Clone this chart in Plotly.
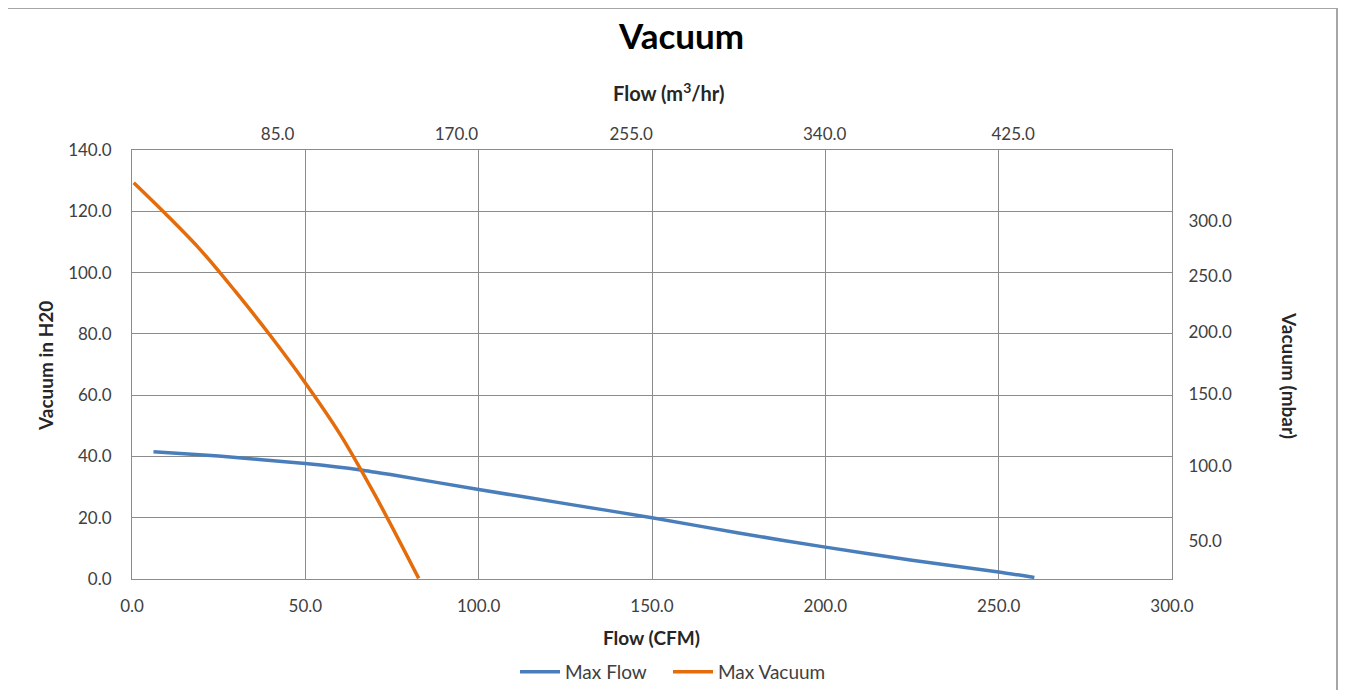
import plotly.graph_objects as go

# ---------------- data ----------------
flow_cfm_max_flow = [6.2, 25, 50, 66, 75, 100, 125, 150, 175, 200, 225, 250, 260.3]
vac_inh2o_max_flow = [41.5, 40.1, 37.7, 35.6, 34.0, 29.2, 24.6, 20.0, 15.0, 10.4, 6.1, 2.3, 0.5]

flow_cfm_max_vac = [0.5, 10, 20, 30, 40, 50, 60, 70, 82.7]
vac_inh2o_max_vac = [129.3, 118.8, 107.1, 93.6, 79.3, 64.0, 47.3, 27.6, 0.2]

bottom_ticks = [0, 50, 100, 150, 200, 250, 300]
left_ticks = [0, 20, 40, 60, 80, 100, 120, 140]

top_tick_labels = ["85.0", "170.0", "255.0", "340.0", "425.0"]
top_tick_pos_cfm = [42.0, 93.6, 144.0, 199.8, 254.2]

right_tick_labels = ["300.0", "250.0", "200.0", "150.0", "100.0", "50.0"]
right_tick_pos_inh2o = [116.8, 98.8, 80.6, 60.4, 37.0, 12.5]

# ---------------- layout geometry ----------------
O = 8                      # page body margin
W, H = 1330, 682
L, R, T, B = 124, 166, 142, 111
PW, PH = W - L - R, H - T - B


def px(sx):
    return (sx - O - L) / PW


def py(sy):
    return (H - B - (sy - O)) / PH


def cx(sx):
    return (sx - O) / W


def cy(sy):
    return 1 - (sy - O) / H


FONT = "Lato, 'Open Sans', sans-serif"
BLUE = "#4A7EBB"
ORANGE = "#E46C0A"
GRID = "#8C8C8C"
TXT = "#404040"
TTL = "#262626"

fig = go.Figure()
fig.add_trace(go.Scatter(x=flow_cfm_max_flow, y=vac_inh2o_max_flow, mode="lines",
                         name="Max Flow", legend="legend",
                         line=dict(color=BLUE, width=3.5, shape="spline", smoothing=0.6)))
fig.add_trace(go.Scatter(x=flow_cfm_max_vac, y=vac_inh2o_max_vac, mode="lines",
                         name="Max Vacuum", legend="legend2",
                         line=dict(color=ORANGE, width=3.5, shape="spline", smoothing=1.0)))
# invisible helper traces so the secondary axes are drawn
fig.add_trace(go.Scatter(x=flow_cfm_max_flow, y=vac_inh2o_max_flow, xaxis="x2", yaxis="y",
                         mode="lines", line=dict(width=0), opacity=0, showlegend=False, hoverinfo="skip"))
fig.add_trace(go.Scatter(x=flow_cfm_max_flow, y=vac_inh2o_max_flow, xaxis="x", yaxis="y2",
                         mode="lines", line=dict(width=0), opacity=0, showlegend=False, hoverinfo="skip"))

legend_common = dict(orientation="h", xref="container", yref="container",
                     xanchor="left", yanchor="middle", y=cy(672),
                     font=dict(family=FONT, size=19, color=TXT), itemwidth=40,
                     bgcolor="rgba(0,0,0,0)", tracegroupgap=0)

fig.update_layout(
    width=W, height=H,
    margin=dict(l=L, r=R, t=T, b=B, autoexpand=False),
    paper_bgcolor="white", plot_bgcolor="white",
    font=dict(family=FONT, size=17, color=TXT),
    showlegend=True,
    legend=dict(legend_common, x=cx(515)),
    legend2=dict(legend_common, x=cx(668)),
    xaxis=dict(range=[0, 300], tickvals=bottom_ticks, tickformat=".1f",
               showgrid=True, gridcolor=GRID, gridwidth=1,
               showline=True, linecolor=GRID, linewidth=1, mirror=True,
               zeroline=False, ticks="outside", ticklen=12, tickcolor="rgba(0,0,0,0)",
               tickfont=dict(family=FONT, size=17, color=TXT)),
    yaxis=dict(range=[0, 140], tickvals=left_ticks, tickformat=".1f",
               showgrid=True, gridcolor=GRID, gridwidth=1,
               showline=True, linecolor=GRID, linewidth=1, mirror=True,
               zeroline=False, ticks="outside", ticklen=16, tickcolor="rgba(0,0,0,0)",
               tickfont=dict(family=FONT, size=17, color=TXT)),
    xaxis2=dict(range=[0, 300], overlaying="x", side="top", anchor="y",
                tickvals=top_tick_pos_cfm, ticktext=top_tick_labels,
                showgrid=False, zeroline=False, showline=False,
                ticks="outside", ticklen=2, tickcolor="rgba(0,0,0,0)",
                tickfont=dict(family=FONT, size=17, color=TXT)),
    yaxis2=dict(range=[0, 140], overlaying="y", side="right", anchor="x",
                tickvals=right_tick_pos_inh2o, ticktext=right_tick_labels,
                showgrid=False, zeroline=False, showline=False,
                ticks="outside", ticklen=12, tickcolor="rgba(0,0,0,0)",
                tickfont=dict(family=FONT, size=17, color=TXT)),
    annotations=[
        dict(text="<b>Vacuum</b>", xref="paper", yref="paper", x=px(681), y=py(35),
             xanchor="center", yanchor="middle", showarrow=False,
             font=dict(family=FONT, size=35, color="#000000")),
        dict(text="<b>Flow (m<sup>3</sup>/hr)</b>", xref="paper", yref="paper", x=px(668), y=py(92),
             xanchor="center", yanchor="middle", showarrow=False,
             font=dict(family=FONT, size=20, color=TTL)),
        dict(text="<b>Flow (CFM)</b>", xref="paper", yref="paper", x=px(651), y=py(637),
             xanchor="center", yanchor="middle", showarrow=False,
             font=dict(family=FONT, size=19, color=TTL)),
        dict(text="<b>Vacuum in H20</b>", xref="paper", yref="paper", x=px(45), y=py(366),
             xanchor="center", yanchor="middle", showarrow=False, textangle=-90,
             font=dict(family=FONT, size=19, color=TTL)),
        dict(text="<b>Vacuum (mbar)</b>", xref="paper", yref="paper", x=px(1290), y=py(375),
             xanchor="center", yanchor="middle", showarrow=False, textangle=90,
             font=dict(family=FONT, size=19, color=TTL)),
    ],
    shapes=[
        dict(type="rect", xref="paper", yref="paper",
             x0=px(7), x1=px(1337), y0=py(720), y1=py(8),
             line=dict(color="#A6A6A6", width=2), fillcolor="rgba(0,0,0,0)", layer="below"),
    ],
)

fig.write_html("out.html")
